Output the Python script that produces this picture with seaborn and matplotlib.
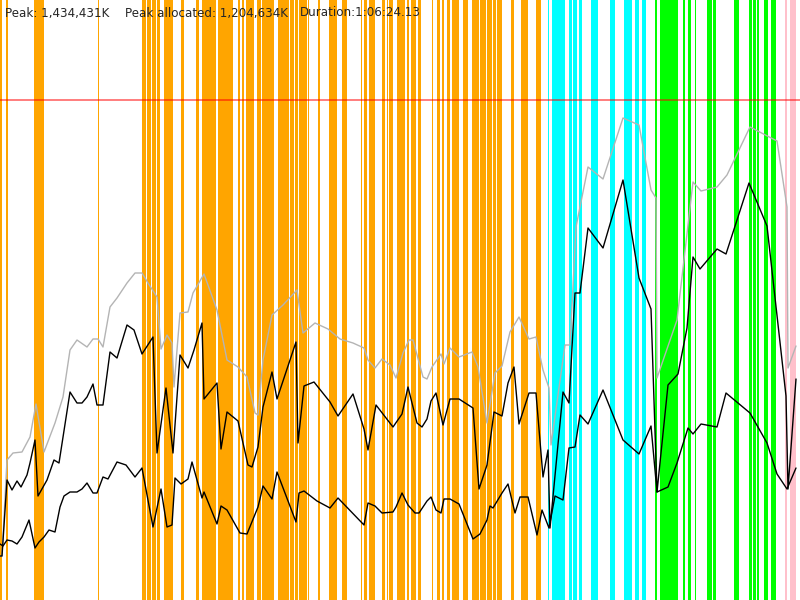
# Memory timeline: heap usage lines over GC event bands
import matplotlib
matplotlib.use("Agg")
import matplotlib.pyplot as plt
import seaborn as sns

sns.set_style("white")
plt.rcParams['font.family'] = ['DejaVu Sans']

# time axis runs 0..800 (ticks), memory axis 0..600 (units)
committed_t = [0, 2, 7, 13, 22, 30, 36, 44, 55, 63, 70, 77, 87, 93, 98, 103, 110, 117, 127, 135,
               142, 148, 157, 161, 167, 172, 174, 180, 188, 193, 204, 217, 227, 238, 247, 255, 258, 263, 272, 283,
               297, 303, 315, 328, 340, 353, 364, 368, 375, 382, 390, 396, 403, 409, 413, 423, 427, 432, 441, 444,
               450, 459, 472, 478, 487, 495, 502, 510, 519, 529, 536, 543, 549, 551, 565, 570, 576, 588, 603, 623,
               639, 651, 656, 657, 677, 693, 701, 717, 727, 750, 777, 787, 788, 796]
committed = [44, 44, 140, 147, 148, 163, 196, 148, 177, 203, 250, 260, 253, 261, 261, 253, 293, 302, 317, 327,
             327, 317, 303, 251, 265, 257, 213, 287, 288, 307, 326, 290, 240, 233, 223, 187, 185, 240, 285, 295,
             310, 267, 277, 271, 261, 257, 252, 240, 232, 241, 235, 222, 247, 260, 260, 223, 221, 233, 246, 236,
             252, 243, 248, 233, 177, 227, 234, 268, 283, 261, 263, 230, 212, 155, 255, 255, 373, 433, 421, 482,
             475, 410, 402, 222, 280, 418, 409, 413, 425, 473, 459, 393, 232, 254]

used_t = [0, 2, 7, 12, 17, 21, 27, 30, 35, 38, 47, 54, 59, 70, 77, 82, 87, 93, 97, 103,
          110, 117, 127, 134, 142, 153, 157, 166, 173, 180, 188, 194, 202, 204, 217, 221, 227, 238, 248, 252,
          258, 263, 272, 277, 296, 298, 304, 314, 330, 338, 353, 364, 368, 376, 393, 402, 408, 417, 422, 427,
          431, 436, 443, 450, 459, 473, 479, 487, 494, 502, 508, 514, 519, 529, 536, 543, 548, 550, 563, 569,
          575, 580, 588, 603, 623, 639, 651, 657, 668, 678, 687, 693, 700, 717, 726, 749, 767, 786, 788, 796]
used = [44, 44, 120, 110, 119, 113, 125, 137, 160, 104, 120, 140, 137, 208, 197, 197, 203, 216, 195, 195,
        248, 242, 275, 270, 246, 263, 147, 212, 147, 245, 232, 250, 277, 201, 217, 151, 188, 179, 135, 133,
        153, 193, 228, 201, 258, 157, 214, 218, 198, 184, 206, 171, 150, 195, 173, 186, 213, 177, 173, 181,
        199, 207, 175, 201, 201, 192, 111, 135, 188, 184, 217, 233, 176, 207, 207, 123, 150, 72, 208, 197,
        307, 307, 372, 352, 420, 322, 291, 108, 215, 226, 272, 343, 331, 351, 346, 417, 374, 204, 111, 221]

after_gc_t = [0, 3, 7, 12, 17, 22, 29, 35, 39, 44, 49, 55, 60, 64, 70, 77, 82, 87, 93, 97,
              103, 108, 117, 126, 135, 142, 153, 161, 167, 172, 175, 181, 188, 192, 202, 204, 217, 221, 227, 240,
              247, 258, 263, 272, 277, 296, 299, 304, 317, 330, 338, 364, 368, 375, 382, 393, 396, 402, 408, 415,
              419, 427, 431, 436, 441, 444, 450, 459, 473, 480, 487, 490, 493, 502, 508, 515, 520, 528, 537, 542,
              549, 555, 563, 569, 575, 580, 588, 603, 623, 639, 651, 657, 668, 677, 688, 693, 701, 717, 726, 750,
              767, 777, 787, 796]
after_gc = [56, 54, 60, 59, 56, 63, 80, 52, 58, 63, 70, 68, 93, 104, 108, 108, 111, 117, 107, 107,
            123, 121, 138, 135, 123, 132, 73, 111, 73, 75, 122, 116, 121, 138, 102, 108, 76, 94, 90, 67,
            66, 93, 114, 101, 128, 78, 107, 109, 99, 92, 102, 75, 97, 94, 87, 88, 93, 107, 95, 87,
            87, 99, 103, 90, 87, 101, 101, 96, 61, 66, 80, 94, 92, 107, 116, 87, 103, 103, 65, 90,
            72, 104, 100, 152, 153, 185, 176, 210, 160, 146, 174, 108, 113, 137, 172, 166, 176, 173, 207, 187,
            157, 126, 111, 132]

heap_max = 500

# GC event bands (start, end)
young_gc = [(0, 2), (6, 7.7), (34, 44), (98, 99), (141.7, 146), (147.3, 151), (152, 156), (157, 160),
            (164.3, 172.7), (180.7, 183.7), (195.7, 199), (201.7, 216), (217.7, 232.7),
            (238.3, 240), (241.7, 244), (246, 254), (256.7, 260.7), (262.3, 274), (277.7, 282.7),
            (283.3, 289), (290, 294), (295, 298.3), (299.3, 307.3), (308, 309), (317.7, 320), (329.3, 336.7),
            (342, 347), (361, 362), (364, 367), (369, 375), (382, 385), (387, 388), (389, 393), (397, 405),
            (407, 409), (411, 416), (418, 421), (432, 433), (437, 440), (442, 444), (447, 450), (452, 459),
            (463, 468), (472, 479), (480, 486), (487, 492), (493, 496), (497, 502), (511, 514), (521, 528),
            (536, 541)]
mixed_gc = [(548, 549), (552, 565), (569, 572), (573, 577), (579, 582), (591, 598), (610, 615),
            (624, 632), (635, 639), (642, 646)]
full_gc = [(655, 657), (660, 678), (683, 685), (688, 691), (695, 696), (707, 712), (713, 716),
           (734, 739), (749, 752), (753, 756), (757, 759), (764, 768), (771, 776)]
other_gc = [(785, 787), (790, 793), (793, 796)]

fig = plt.figure(figsize=(8, 6), dpi=100)
ax = fig.add_axes([0, 0, 1, 1])

for spans, col in [(young_gc, 'orange'), (mixed_gc, 'cyan'), (full_gc, 'lime'), (other_gc, 'pink')]:
    for a, b in spans:
        ax.axvspan(a, b, color=col, lw=0)

ax.axhline(heap_max, color='red', alpha=0.55, lw=1.3)

sns.lineplot(x=committed_t, y=committed, ax=ax, color='#b4b4b4', lw=1.0, sort=False)
sns.lineplot(x=used_t, y=used, ax=ax, color='black', lw=1.0, sort=False)
sns.lineplot(x=after_gc_t, y=after_gc, ax=ax, color='black', lw=1.0, sort=False)

ax.set_xlim(0, 800)
ax.set_ylim(0, 600)
ax.axis('off')

fig.text(5 / 800, 1 - 13 / 600, 'Peak: 1,434,431K', fontsize=8.6, va='center')
fig.text(125 / 800, 1 - 13 / 600, 'Peak allocated: 1,204,634K', fontsize=8.6, va='center')
fig.text(300 / 800, 1 - 13 / 600, 'Duration:1:06:24.13', fontsize=8.6, va='center')

fig.savefig('out.png', dpi=100)
